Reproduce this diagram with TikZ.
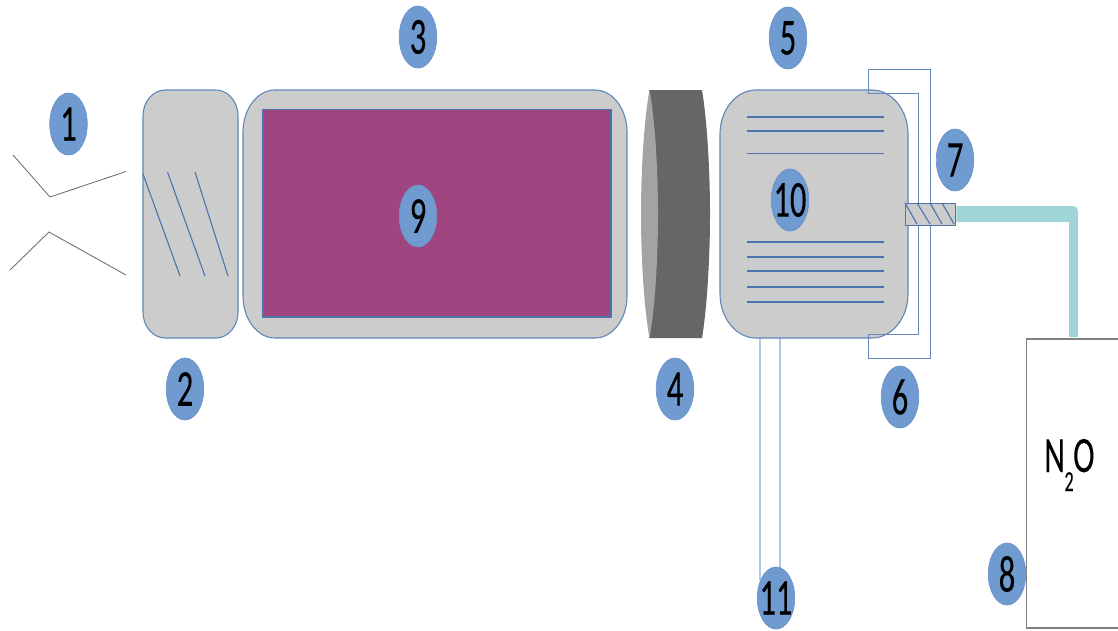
\documentclass[tikz,border=0pt]{standalone}
\usepackage{fontspec}
\usepackage{graphicx}
\setmainfont[FakeBold=0.15]{Carlito}
\usetikzlibrary{shapes.geometric}
\definecolor{badge}{HTML}{6F9BD1}
\definecolor{badgeedge}{HTML}{6A94C8}
\definecolor{shell}{HTML}{CCCCCC}
\definecolor{edge}{HTML}{5F87B8}
\definecolor{wire}{HTML}{4A74AB}
\definecolor{palewire}{HTML}{B4C7E0}
\definecolor{plum}{HTML}{A0457F}
\definecolor{pipe}{HTML}{A0D5D8}
\definecolor{lensdark}{HTML}{666666}
\definecolor{lenslight}{HTML}{A3A3A3}
\newcommand{\squeezed}[1]{\scalebox{.63}[1]{#1}}
\newcommand{\squeezedtwo}[1]{\makebox[0pt]{\scalebox{.62}[1]{#1}}}
% x1 y1 x2 y2 rx ry : box with elliptical corners
\newcommand{\softbox}[6]{%
  (#1,#2+#6) .. controls (#1,#2+.45*#6) and (#1+.45*#5,#2) .. (#1+#5,#2)
  -- (#3-#5,#2) .. controls (#3-.45*#5,#2) and (#3,#2+.45*#6) .. (#3,#2+#6)
  -- (#3,#4-#6) .. controls (#3,#4-.45*#6) and (#3-.45*#5,#4) .. (#3-#5,#4)
  -- (#1+#5,#4) .. controls (#1+.45*#5,#4) and (#1,#4-.45*#6) .. (#1,#4-#6) -- cycle}
\tikzset{
  badgenode/.style={ellipse,fill=badge,draw=badgeedge,line width=.7pt,inner sep=0pt,
    minimum width=37.5pt,minimum height=62pt,text=black,
    font=\fontsize{52}{52}\selectfont},
  shellshape/.style={fill=shell,draw=edge,line width=1.1pt},
  wireline/.style={draw=wire,line width=1.1pt},
  paleline/.style={draw=palewire,line width=1.5pt},
  mouthline/.style={draw=black!55,line width=.9pt},
  fitting/.style={rectangle,fill=shell,draw=wire,line width=1.3pt,inner sep=0pt,
    minimum width=50pt,minimum height=22pt,anchor=north west},
  tankbox/.style={rectangle,fill=white,draw=black!50,line width=1.6pt,inner sep=0pt,
    minimum width=110pt,minimum height=289pt,anchor=north west},
}
\begin{document}
\begin{tikzpicture}[x=1pt,y=-1pt]
\useasboundingbox (0,0) rectangle (1118,630);
% aperture lines
\draw[mouthline] (13,155) -- (50,197) -- (126,171.5);
\draw[mouthline] (10,270) -- (49,232) -- (126,275);
% tube under body
\coordinate (tubeLtop) at (760,338);
\coordinate (tubeRtop) at (780,338);
\coordinate (tubeLend) at (760,580);
\coordinate (tubeRend) at (780,580);
\draw[paleline] (tubeLtop) -- (tubeLend);
\draw[paleline] (tubeRtop) -- (tubeRend);
% section 2
\path[shellshape] \softbox{143}{90}{238}{338}{22}{26};
\draw[wireline] (143,174) -- (180,276);
\draw[wireline] (167.5,172) -- (205,276);
\draw[wireline] (195,172) -- (228,276);
% section 3
\path[shellshape] \softbox{243}{90}{627}{338}{32}{42};
\path[fill=plum,draw=wire,line width=1.3pt] (263,109.5) rectangle (611,317);
% lens 4
\fill[lensdark] (649,90) -- (702,90) .. controls (707,120) and (710,170) .. (710,214)
  .. controls (710,258) and (707,308) .. (702,338) -- (649,338) -- cycle;
\fill[lenslight] (649.5,90) .. controls (644,120) and (641,170) .. (641,214)
  .. controls (641,258) and (644,308) .. (649.5,338)
  .. controls (655,308) and (658,258) .. (658,214)
  .. controls (658,170) and (655,120) .. (649.5,90) -- cycle;
% section 5
\path[shellshape] \softbox{720}{90}{908}{338}{36}{44};
\foreach \yy in {117,131,153.5,242,257,271,287,302}
  \draw[wireline] (747,\yy) -- (884,\yy);
% bracket 6
\draw[wire!85,line width=1pt] (868,69.5) -- (930,69.5) -- (930,358) -- (868,358) -- (868,334.5)
  -- (918,334.5) -- (918,93) -- (868,93) -- cycle;
% tank and fitting
\node[tankbox] (tank) at (1025.5,338) {};
\node[fitting] (fit) at (905,202.5) {};
\foreach \xa/\xb in {905/917,917/930,930/942,942/954}
  \draw[wireline] (\xa,203) -- (\xb,224);
% pipe from fitting to tank
\coordinate (pipeA) at (fit.east |- 0,206);
\coordinate (pipeB) at (fit.east |- 0,222);
\fill[pipe] (pipeA) -- (1073,206) .. controls (1076,206) and (1078,208) .. (1078,211)
  -- (1078,337) -- (1069,337) -- (1069,222) -- (pipeB) -- cycle;
% tank label
\node[inner sep=0pt,anchor=base west,font=\fontsize{51}{51}\selectfont] (formula) at (1044,472)
  {\squeezed{N}\kern-.5pt\raisebox{-19pt}{\fontsize{29}{29}\selectfont\squeezed{2}}\kern-.5pt\squeezed{O}};
% number badges
\node[badgenode] (b1) at (68.5,124) {\squeezed{1}};
\node[badgenode] (b2) at (185,389) {\squeezed{2}};
\node[badgenode] (b3) at (418,37) {\squeezed{3}};
\node[badgenode] (b4) at (675,389) {\squeezed{4}};
\node[badgenode] (b5) at (788,38) {\squeezed{5}};
\node[badgenode] (b6) at (900,397) {\squeezed{6}};
\node[badgenode] (b7) at (955,160) {\squeezed{7}};
\node[badgenode] (b8) at (1007,574) {\squeezed{8}};
\node[badgenode] (b9) at (418,216) {\squeezed{9}};
\node[badgenode] (b10) at (790,200) {\squeezedtwo{10}};
\node[badgenode] (b11) at (776,598) {\squeezedtwo{11}};
\end{tikzpicture}
\end{document}
